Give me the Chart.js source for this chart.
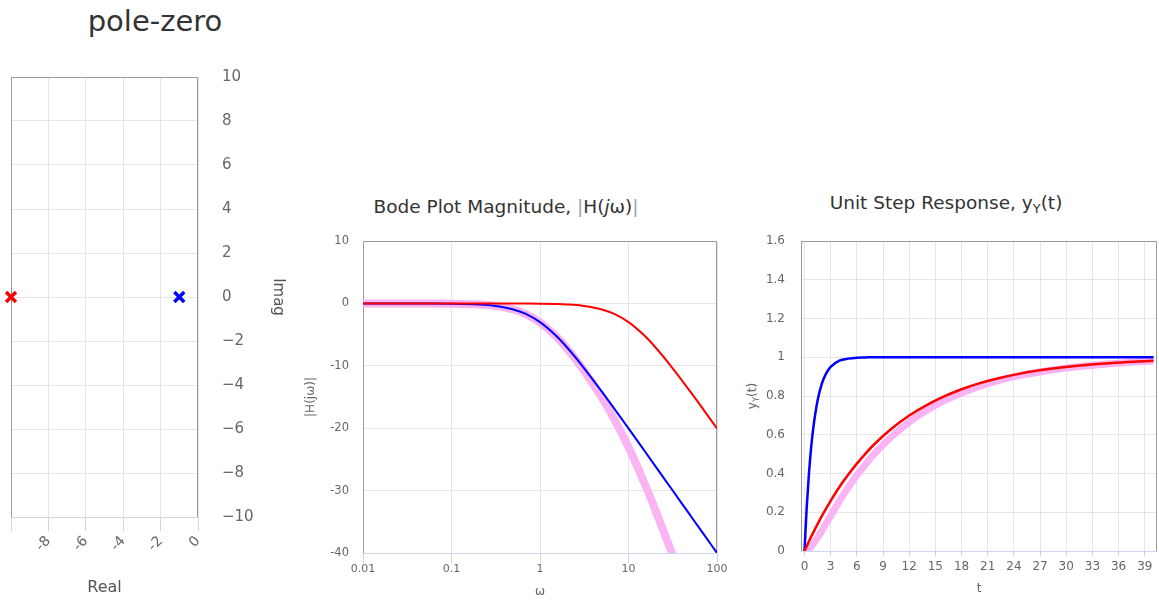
<!DOCTYPE html>
<html>
<head>
<meta charset="utf-8">
<script src="https://cdn.jsdelivr.net/npm/chart.js@4"></script>
<style>
  body { margin: 0; background: #fff; font-family: "DejaVu Sans", sans-serif; }
  #wrap { position: relative; width: 1159px; height: 601px; overflow: hidden; }
  canvas { position: absolute; }
  .title { position: absolute; color: #333; white-space: nowrap; text-align: center; }
  .title sub, .ytitle sub { font-size: 0.7em; vertical-align: -0.3em; line-height: 0; }
  .bar { color: #9a9fb0; }
  .ytitle { position: absolute; color: #666; font-size: 12px; white-space: nowrap;
            transform: translate(-50%, -50%) rotate(-90deg); }
</style>
</head>
<body>
<div id="wrap">
  <div class="title" style="left:0;width:310px;top:7px;font-size:29px;line-height:29px;">pole-zero</div>
  <div class="title" style="left:356px;width:300px;top:198px;font-size:18.5px;line-height:18px;">Bode Plot Magnitude, <span class="bar">|</span>H(<i>j</i>ω)<span class="bar">|</span></div>
  <div class="title" style="left:796px;width:300px;top:194px;font-size:18.5px;line-height:18px;">Unit Step Response, y<sub>Y</sub>(t)</div>
  <div class="ytitle" style="left:752px;top:396px;">y<sub>Y</sub>(t)</div>
  <canvas id="pz" width="300" height="541" style="left:0;top:60px"></canvas>
  <canvas id="bode" width="433" height="371" style="left:295px;top:230px"></canvas>
  <canvas id="step" width="424" height="371" style="left:735px;top:230px"></canvas>
</div>
<script>
// pole-zero plot
const poleReal = [-10, -1];
const poleImag = [0, 0];
const poleColors = ["#ff0000", "#0000ff"];
const pzXTicks = [-10, -8, -6, -4, -2, 0];

// bode magnitude (dB)
const omega = [0.01, 0.02, 0.05, 0.1, 0.2, 0.3, 0.5, 0.7, 1, 1.5, 2, 3, 5, 7, 10, 15, 20, 30, 50, 70, 100];
const magBlue = [0, 0, -0.01, -0.04, -0.17, -0.37, -0.97, -1.73, -3.01, -5.12, -6.99, -10.0, -14.15, -16.99, -20.04, -23.54, -26.03, -29.55, -33.98, -36.9, -40.0];
const magRed = [0, 0, 0, 0, 0, 0, -0.01, -0.02, -0.04, -0.1, -0.17, -0.37, -0.97, -1.73, -3.01, -5.12, -6.99, -10.0, -14.15, -16.99, -20.04];
const magPink = [0, 0, -0.01, -0.04, -0.17, -0.37, -0.98, -1.75, -3.05, -5.22, -7.16, -10.37, -15.12, -18.72, -23.05, -28.66, -33.02, -39.55, -48.13, -53.89, -60.04];
const bodeXTicks = [0.01, 0.1, 1, 10, 100];

// unit step response
const tSteps = [0, 0.25, 0.5, 0.75, 1, 1.5, 2, 2.5, 3, 4, 5, 6, 7, 8, 10, 12, 14, 16, 18, 20, 22, 25, 28, 31, 34, 37, 40];
const stepBlue = [0, 0.221, 0.393, 0.528, 0.632, 0.777, 0.865, 0.918, 0.950, 0.982, 0.993, 0.998, 0.999, 1, 1, 1, 1, 1, 1, 1, 1, 1, 1, 1, 1, 1, 1];
const stepRed = [0, 0.025, 0.049, 0.072, 0.095, 0.139, 0.181, 0.221, 0.259, 0.330, 0.393, 0.451, 0.503, 0.551, 0.632, 0.699, 0.753, 0.798, 0.835, 0.865, 0.889, 0.918, 0.939, 0.955, 0.967, 0.975, 0.982];
const stepPink = [0, 0.003, 0.011, 0.022, 0.036, 0.069, 0.105, 0.144, 0.182, 0.257, 0.327, 0.391, 0.448, 0.501, 0.591, 0.665, 0.726, 0.776, 0.816, 0.850, 0.877, 0.909, 0.932, 0.950, 0.963, 0.973, 0.980];
const stepXTicks = [0, 3, 6, 9, 12, 15, 18, 21, 24, 27, 30, 33, 36, 39];

Chart.defaults.font.family = '"DejaVu Sans", sans-serif';
Chart.defaults.color = "#666";

const pink = "#fbb4f3";
const gridColor = "#e6e6e6";
const axisBlue = "#ccd6eb";

const pts = (xs, ys) => xs.map((x, i) => ({ x: x, y: ys[i] }));

// grey border on top / left / right of the plot area
const framePlugin = {
  id: "frame",
  beforeDatasetsDraw(chart) {
    const { ctx, chartArea: a } = chart;
    const l = Math.round(a.left) + 0.5, r = Math.round(a.right) - 0.5;
    const t = Math.round(a.top) + 0.5, b = Math.round(a.bottom);
    ctx.save();
    ctx.strokeStyle = "#999";
    ctx.lineWidth = 1;
    ctx.beginPath();
    ctx.moveTo(l, b); ctx.lineTo(l, t); ctx.lineTo(r, t); ctx.lineTo(r, b);
    ctx.stroke();
    ctx.restore();
  }
};

const common = {
  responsive: false,
  animation: false,
  events: [],
  plugins: { legend: { display: false }, tooltip: { enabled: false } }
};

// y labels are pushed out with an invisible tick mark, so ticks.padding
// does not add to the plot's top padding
new Chart(document.getElementById("pz"), {
  type: "scatter",
  data: {
    datasets: [{
      data: pts(poleReal, poleImag),
      pointStyle: "crossRot",
      pointRadius: 7,
      pointBorderWidth: 3.5,
      pointBorderColor: poleColors,
      pointBackgroundColor: poleColors,
      clip: false
    }]
  },
  options: {
    ...common,
    layout: { padding: { left: 11, top: 17, right: 0, bottom: 0 } },
    scales: {
      x: {
        type: "linear", min: -10, max: 0,
        afterBuildTicks: s => { s.ticks = pzXTicks.map(v => ({ value: v })); },
        afterFit: s => { s.height = 84; },
        grid: { color: gridColor, tickColor: axisBlue, tickLength: 14 },
        border: { color: axisBlue },
        ticks: { minRotation: 45, maxRotation: 45, padding: 2, font: { size: 14 },
                 callback: v => (v === -10 ? "" : String(v)) },
        title: { display: true, text: "Real", color: "#555", font: { size: 16 }, padding: { top: 0, bottom: 4 } }
      },
      y: {
        position: "right", min: -10, max: 10,
        afterFit: s => { s.width = 102; },
        grid: { color: gridColor, tickColor: "rgba(0,0,0,0)", tickLength: 24 },
        border: { display: false },
        ticks: { stepSize: 2, padding: 0, font: { size: 15 },
                 callback: v => (v < 0 ? "\u2212" + (-v) : String(v)) },
        title: { display: true, text: "Imag", color: "#555", font: { size: 15 }, padding: { top: 13, bottom: 0 } }
      }
    }
  },
  plugins: [framePlugin]
});

new Chart(document.getElementById("bode"), {
  type: "line",
  data: {
    datasets: [
      { data: pts(omega, magRed), borderColor: "#ff0000", borderWidth: 2 },
      { data: pts(omega, magBlue), borderColor: "#0000ff", borderWidth: 2 },
      { data: pts(omega, magPink), borderColor: pink, borderWidth: 8, clip: 0 }
    ]
  },
  options: {
    ...common,
    elements: { point: { radius: 0 }, line: { cubicInterpolationMode: "monotone" } },
    layout: { padding: { left: 0, top: 11, right: 11, bottom: 0 } },
    scales: {
      x: {
        type: "logarithmic", min: 0.01, max: 100,
        afterBuildTicks: s => { s.ticks = bodeXTicks.map(v => ({ value: v })); },
        afterFit: s => { s.height = 48; },
        grid: { color: gridColor, tickColor: axisBlue, tickLength: 10 },
        border: { color: axisBlue },
        ticks: { maxRotation: 0, padding: 0, font: { size: 11 }, callback: v => String(v) },
        title: { display: true, text: "ω", font: { size: 12 }, padding: { top: 0, bottom: 2 } }
      },
      y: {
        min: -40, max: 10,
        afterFit: s => { s.width = 68; },
        grid: { color: gridColor, tickColor: "rgba(0,0,0,0)", tickLength: 14 },
        border: { display: false },
        ticks: { stepSize: 10, padding: 0, font: { size: 11.5 } },
        title: { display: true, text: "|H(jω)|", font: { size: 12 }, padding: { top: 9, bottom: 0 } }
      }
    }
  },
  plugins: [framePlugin]
});

new Chart(document.getElementById("step"), {
  type: "line",
  data: {
    datasets: [
      { data: pts(tSteps, stepRed), borderColor: "#ff0000", borderWidth: 2.5 },
      { data: pts(tSteps, stepBlue), borderColor: "#0000ff", borderWidth: 2.5 },
      { data: pts(tSteps, stepPink), borderColor: pink, borderWidth: 7 }
    ]
  },
  options: {
    ...common,
    elements: { point: { radius: 0 }, line: { cubicInterpolationMode: "monotone" } },
    layout: { padding: { left: 0, top: 11, right: 2, bottom: 0 } },
    scales: {
      x: {
        type: "linear", min: -0.4, max: 40.4,
        afterBuildTicks: s => { s.ticks = stepXTicks.map(v => ({ value: v })); },
        afterFit: s => { s.height = 50; },
        grid: { color: "#e9e4ec", tickColor: axisBlue, tickLength: 5 },
        border: { color: axisBlue },
        ticks: { maxRotation: 0, padding: 4, font: { size: 12 } },
        title: { display: true, text: "t", font: { size: 12 }, padding: { top: 0, bottom: 5 } }
      },
      y: {
        min: 0, max: 1.6,
        afterFit: s => { s.width = 66; },
        grid: { color: "#e9e4ec", tickColor: "rgba(0,0,0,0)", tickLength: 16 },
        border: { display: false },
        ticks: { stepSize: 0.2, padding: 0, font: { size: 12 }, callback: v => String(+v.toFixed(1)) }
      }
    }
  },
  plugins: [framePlugin]
});
</script>
</body>
</html>
